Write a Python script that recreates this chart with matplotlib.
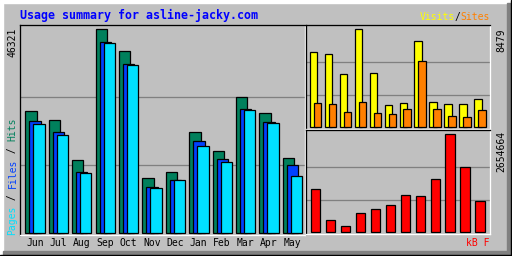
import matplotlib
matplotlib.use("Agg")
import matplotlib.pyplot as plt
from matplotlib.patches import Rectangle
import numpy as np

# data
months = ["Jun", "Jul", "Aug", "Sep", "Oct", "Nov", "Dec", "Jan", "Feb", "Mar", "Apr", "May"]
hits = [27717, 25666, 16478, 46321, 41309, 12377, 13744, 22857, 18528, 30830, 27184, 16933]
files = [25438, 22857, 13744, 43360, 38347, 10327, 11922, 20806, 16706, 28096, 25134, 15339]
pages = [24679, 22173, 13600, 43132, 38200, 10099, 11900, 19667, 16022, 27868, 24907, 12833]
visits = [6489, 6316, 4586, 8479, 4672, 1903, 2077, 7441, 2163, 1990, 1990, 2423]
sites = [2077, 1990, 1298, 2163, 1211, 1125, 1557, 5710, 1557, 952, 865, 1471]
kbytes = [1164800, 325100, 162500, 514700, 623000, 731400, 1002300, 975200, 1435700, 2654664, 1760800, 839800]

title = "Usage summary for asline-jacky.com"

c_hits = "#00805c"
c_files = "#0040ff"
c_pages = "#00e0ff"
c_visits = "#ffff00"
c_sites = "#ff8000"
c_kb = "#ff0000"
bg = "#c0c0c0"
grid = "#808080"

W, H = 512, 256
fig = plt.figure(figsize=(W / 100, H / 100), dpi=100, facecolor=bg)

# full figure axes in pixel coords for bevel and labels
base = fig.add_axes([0, 0, 1, 1], zorder=-1)
base.set_xlim(0, W)
base.set_ylim(H, 0)
base.axis("off")
base.add_patch(Rectangle((0, 0), W, H, color=bg))
base.add_patch(Rectangle((0, 0), W, 2.5, color="white"))
base.add_patch(Rectangle((0, 0), 2.5, H, color="white"))
base.add_patch(Rectangle((W - 5, 3), 5, H - 3, color=grid))
base.add_patch(Rectangle((3, H - 5), W - 3, 5, color=grid))
base.add_patch(Rectangle((W - 1, 0), 1, H, color="black"))
base.add_patch(Rectangle((0, H - 1), W, 1, color="black"))

px = 0.72  # one pixel in points


def panel(x0, y0, x1, y1):
    ax = fig.add_axes([x0 / W, 1 - y1 / H, (x1 - x0) / W, (y1 - y0) / H])
    ax.set_facecolor(bg)
    ax.spines["left"].set_color("black")
    ax.spines["top"].set_color("black")
    ax.spines["right"].set_color("white")
    ax.spines["bottom"].set_color("white")
    for s in ax.spines.values():
        s.set_linewidth(px * 1.3)
    ax.set_xticks([])
    ax.set_yticks([])
    return ax


x = np.arange(len(months))

# main panel: hits / files / pages
ax = panel(20, 25, 304.5, 235)
unit = 227.7
ax.set_xlim(-0.642, 11.515)
ax.set_ylim(-2.3 * unit, max(hits) + 4.3 * unit)
for f in (1 / 3, 2 / 3):
    ax.axhline(max(hits) * f, color=grid, lw=px * 1.3, zorder=0)
w = 0.484
off = 0.171
ax.bar(x - off, hits, w, color=c_hits, edgecolor="black", linewidth=0.9, zorder=2)
ax.bar(x, files, w, color=c_files, edgecolor="black", linewidth=0.9, zorder=3)
ax.bar(x + off, pages, w, color=c_pages, edgecolor="black", linewidth=0.9, zorder=4)

# visits / sites panel
ax2 = panel(305.5, 25, 490, 128.5)
unit2 = max(visits) / 98
ax2.set_xlim(-0.667, 11.667)
ax2.set_ylim(-1.2 * unit2, max(visits) + 4.3 * unit2)
for f in (1 / 3, 2 / 3):
    ax2.axhline(max(visits) * f, color=grid, lw=px * 1.3, zorder=0)
ax2.bar(x - 0.133, visits, 0.5, color=c_visits, edgecolor="black", linewidth=0.9, zorder=2)
ax2.bar(x + 0.133, sites, 0.5, color=c_sites, edgecolor="black", linewidth=0.9, zorder=3)

# kbytes panel
ax3 = panel(305.5, 130, 490, 234)
unit3 = max(kbytes) / 98
ax3.set_xlim(-0.667, 11.667)
ax3.set_ylim(-1.7 * unit3, max(kbytes) + 4.3 * unit3)
for f in (1 / 3, 2 / 3):
    ax3.axhline(max(kbytes) * f, color=grid, lw=px * 1.3, zorder=0)
ax3.bar(x, kbytes, 0.62, color=c_kb, edgecolor="black", linewidth=0.9, zorder=2)

# text
mono = "DejaVu Sans Mono"
fs = 7
cw = fs * 100 / 72 * 0.602

base.text(20, 15.5, title, color="#0000ff", family=mono, fontsize=8.4,
          fontweight="bold", ha="left", va="center")

xr = 490
base.text(xr, 17, "Sites", color=c_sites, family=mono, fontsize=fs, ha="right", va="center")
base.text(xr - 5 * cw, 17, "/", color="black", family=mono, fontsize=fs, ha="right", va="center")
base.text(xr - 6 * cw, 17, "Visits", color=c_visits, family=mono, fontsize=fs, ha="right", va="center")

for i, m in enumerate(months):
    base.text(35 + i * 23.36, 243, m, color="black", family=mono, fontsize=fs,
              ha="center", va="center")

base.text(12.5, 28, str(max(hits)), color="black", family=mono, fontsize=fs,
          rotation=90, rotation_mode="anchor", ha="right", va="center")
base.text(501, 28, str(max(visits)), color="black", family=mono, fontsize=fs,
          rotation=90, rotation_mode="anchor", ha="right", va="center")
base.text(501, 131, str(max(kbytes)), color="black", family=mono, fontsize=fs,
          rotation=90, rotation_mode="anchor", ha="right", va="center")

# left legend, bottom to top
pieces = [("Pages", c_pages), (" / ", "black"), ("Files", c_files), (" / ", "black"), ("Hits", c_hits)]
y = 235
for s, c in pieces:
    base.text(12.5, y, s, color=c, family=mono, fontsize=fs,
              rotation=90, rotation_mode="anchor", ha="left", va="center")
    y -= len(s) * cw

base.text(xr, 243, "kB F", color=c_kb, family=mono, fontsize=fs, ha="right", va="center")

fig.savefig("out.png", dpi=100, facecolor=bg)
